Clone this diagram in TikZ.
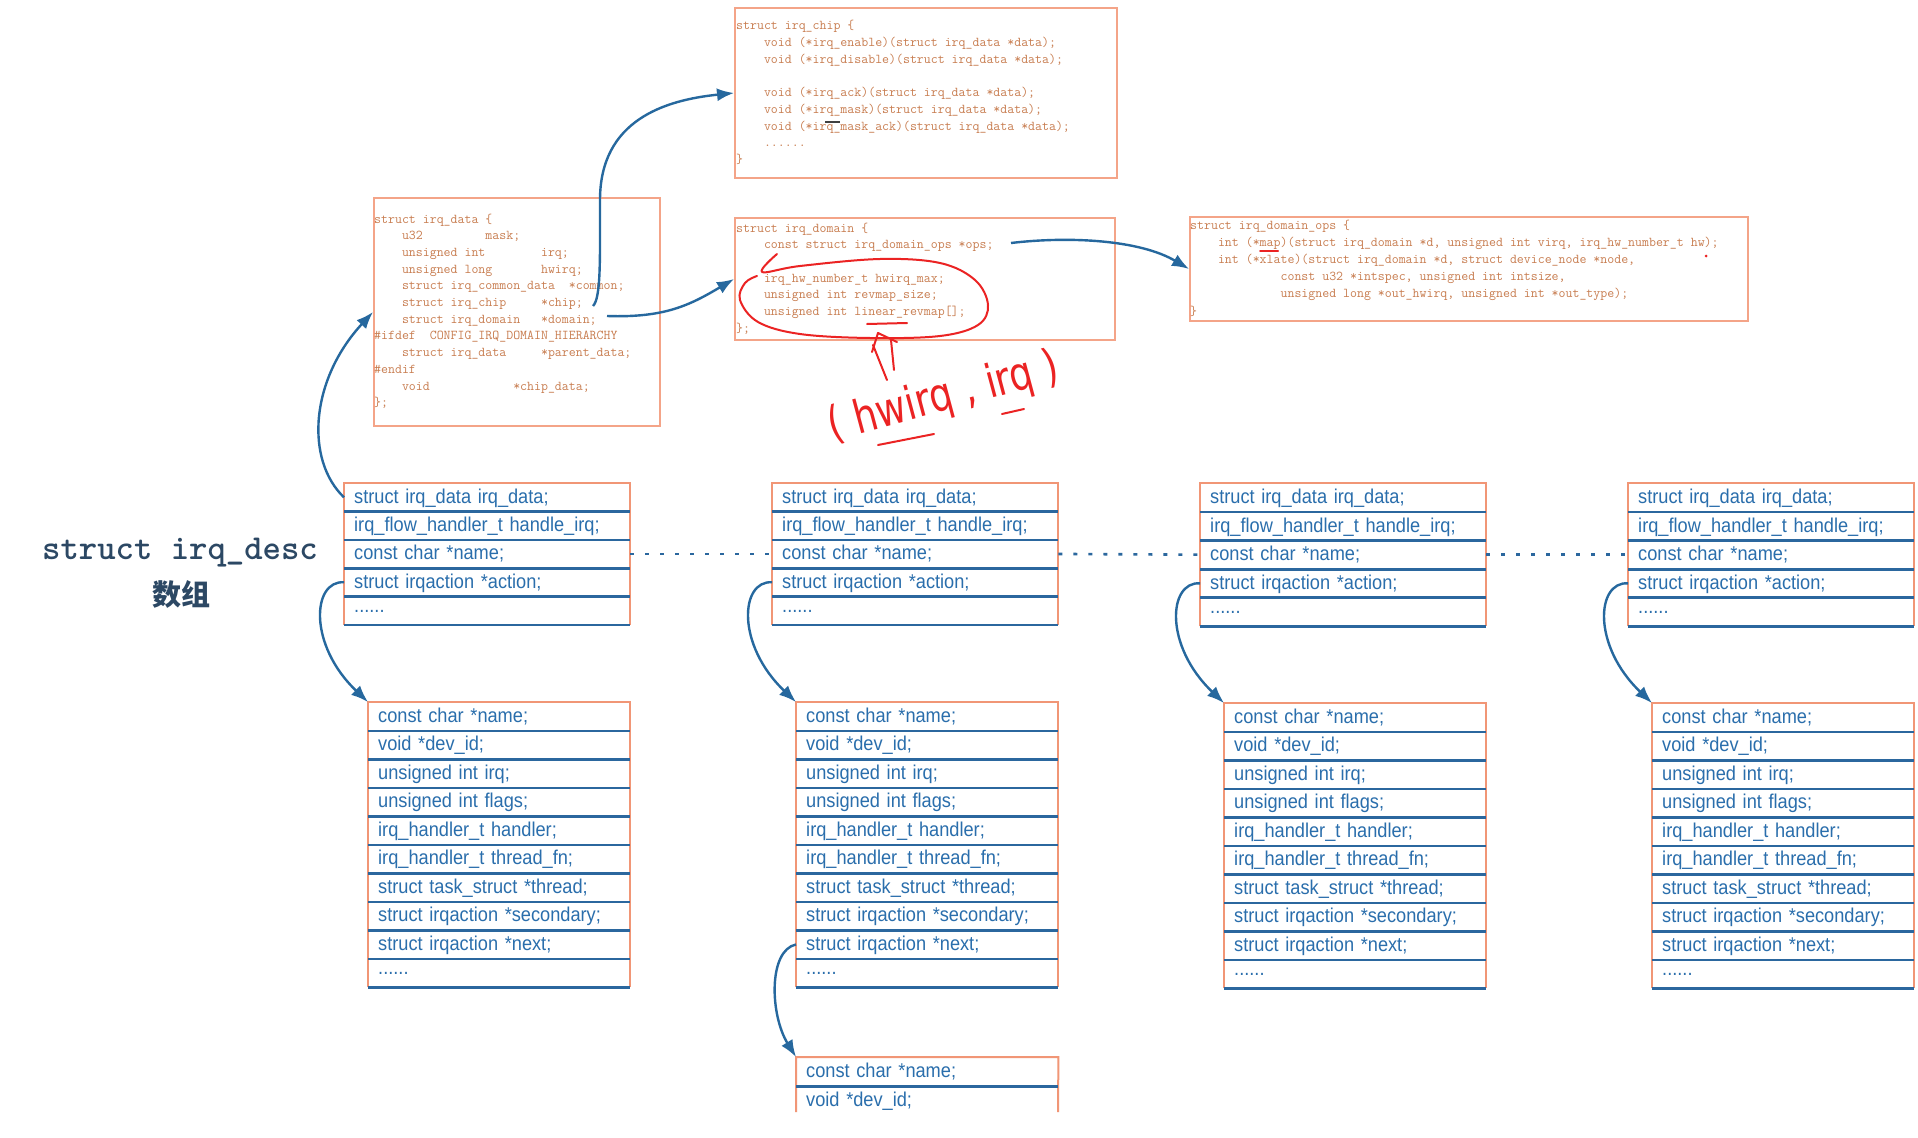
\documentclass[tikz,border=0pt]{standalone}
\usepackage{fontspec}
\usetikzlibrary{arrows.meta}
\newfontfamily\tabfont[FakeStretch=0.91]{Liberation Sans}
\newfontfamily\handfont[FakeStretch=0.8]{DejaVu Sans}
\newfontfamily\cjkfont{Noto Sans CJK SC}
\definecolor{codeborder}{RGB}{244,164,136}
\definecolor{codetextcol}{RGB}{200,125,80}
\definecolor{tabbordercol}{RGB}{241,150,118}
\definecolor{tablinecol}{RGB}{43,103,158}
\definecolor{tabtextcol}{RGB}{42,110,172}
\definecolor{arrowcol}{RGB}{38,104,158}
\definecolor{labelcol}{RGB}{44,72,100}
\definecolor{redcol}{RGB}{235,35,35}
\newcommand\rowdots{\raisebox{4pt}{......}}
\newcommand\sixdots{......}
\newcommand\tabbox[6]{%
  \pgfmathsetmacro\tbw{#5-20}%
  \foreach \rowtxt [count=\rn] in {#6} {%
    \node[rowcell, text width=\tbw pt, minimum width=#5pt, minimum height=#4pt, anchor=north west] (#1-\rn) at (#2, {#3+(\rn-1)*#4}) {\rowtxt};
    \xdef\tblast{\rn}%
  }%
  \draw[tabborder] (#1-\tblast.south west) -- (#1-1.north west) -- (#1-1.north east) -- (#1-\tblast.south east);
  \foreach \rn in {1,...,\tblast} {\draw[tabline] (#1-\rn.south west) -- (#1-\rn.south east);}%
}
\newcommand\codelines[5]{%
  \foreach \ln [count=\rn] in {#5} {%
    \node[codetext, anchor=base west] (#1\rn) at (#2, {#3+(\rn-1)*#4}) {\ln};
  }%
}
\begin{document}
\begin{tikzpicture}[x=1pt,y=-1pt,
  codebox/.style={draw=codeborder, line width=2pt, inner sep=0pt, anchor=north west},
  codetext/.style={text=codetextcol, font=\fontsize{13.5}{16}\selectfont\ttfamily, inner sep=0pt},
  rowcell/.style={inner xsep=10pt, inner ysep=0pt, align=left, text=tabtextcol, font=\tabfont\fontsize{20}{24}\selectfont, text height=15pt, text depth=3pt},
  tabborder/.style={draw=tabbordercol, line width=2pt},
  tabline/.style={draw=tablinecol, line width=2.8pt},
  ptr/.style={draw=arrowcol, line width=2.4pt, -{Latex[length=17pt,width=13pt]}},
  dotlink/.style={draw=tablinecol, line width=2.6pt, dash pattern=on 4pt off 11pt},
  redpen/.style={draw=redcol, line width=2pt, line cap=round, line join=round}]
\fill[white] (0,0) rectangle (1918,1137);
\useasboundingbox (0,0) rectangle (1918,1137);

% ---------- code boxes ----------
\node[codebox, minimum width=382pt, minimum height=170pt] (irqchip) at (734,7) {};
\node[codebox, minimum width=286pt, minimum height=228pt] (irqdata) at (373,197) {};
\node[codebox, minimum width=380pt, minimum height=122pt] (irqdomain) at (734,217) {};
\node[codebox, minimum width=558pt, minimum height=104pt] (irqdomainops) at (1189,216) {};

\codelines{chipL}{736}{30}{16.7}{struct~irq\_chip~\{,
~~~~void~(*irq\_enable)(struct~irq\_data~*data);,
~~~~void~(*irq\_disable)(struct~irq\_data~*data);,
~,
~~~~void~(*irq\_ack)(struct~irq\_data~*data);,
~~~~void~(*irq\_mask)(struct~irq\_data~*data);,
~~~~void~(*irq\_mask\_ack)(struct~irq\_data~*data);,
~~~~\sixdots,
\}}

\codelines{dataL}{374}{223}{16.7}{struct~irq\_data~\{,
~~~~u32~~~~~~~~~mask;,
~~~~unsigned~int~~~~~~~~irq;,
~~~~unsigned~long~~~~~~~hwirq;,
~~~~struct~irq\_common\_data~~*common;,
~~~~struct~irq\_chip~~~~~*chip;,
~~~~struct~irq\_domain~~~*domain;,
\#ifdef~~CONFIG\_IRQ\_DOMAIN\_HIERARCHY,
~~~~struct~irq\_data~~~~~*parent\_data;,
\#endif,
~~~~void~~~~~~~~~~~~*chip\_data;,
\};}

\codelines{domL}{736}{232}{16.7}{struct~irq\_domain~\{,
~~~~const~struct~irq\_domain\_ops~*ops;,
~,
~~~~irq\_hw\_number\_t~hwirq\_max;,
~~~~unsigned~int~revmap\_size;,
~~~~unsigned~int~linear\_revmap[];,
\};}

\codelines{opsL}{1190}{229}{17.2}{struct~irq\_domain\_ops~\{,
{~~~~int~(*map)(struct~irq\_domain~*d,~unsigned~int~virq,~irq\_hw\_number\_t~hw);},
{~~~~int~(*xlate)(struct~irq\_domain~*d,~struct~device\_node~*node,},
{~~~~~~~~~~~~~const~u32~*intspec,~unsigned~int~intsize,},
{~~~~~~~~~~~~~unsigned~long~*out\_hwirq,~unsigned~int~*out\_type);},
\}}

% ---------- irq_desc array ----------
\tabbox{d1}{344}{483}{28.3}{286}{struct irq\_data irq\_data;,irq\_flow\_handler\_t handle\_irq;,const char *name;,struct irqaction *action;,\rowdots}
\tabbox{d2}{772}{483}{28.3}{286}{struct irq\_data irq\_data;,irq\_flow\_handler\_t handle\_irq;,const char *name;,struct irqaction *action;,\rowdots}
\tabbox{d3}{1200}{483}{28.6}{286}{struct irq\_data irq\_data;,irq\_flow\_handler\_t handle\_irq;,const char *name;,struct irqaction *action;,\rowdots}
\tabbox{d4}{1628}{483}{28.6}{286}{struct irq\_data irq\_data;,irq\_flow\_handler\_t handle\_irq;,const char *name;,struct irqaction *action;,\rowdots}

% ---------- irqaction boxes ----------
\tabbox{a1}{368}{702}{28.5}{262}{const char *name;,void *dev\_id;,unsigned int irq;,unsigned int flags;,irq\_handler\_t handler;,irq\_handler\_t thread\_fn;,struct task\_struct *thread;,struct irqaction *secondary;,struct irqaction *next;,\rowdots}
\tabbox{a2}{796}{702}{28.5}{262}{const char *name;,void *dev\_id;,unsigned int irq;,unsigned int flags;,irq\_handler\_t handler;,irq\_handler\_t thread\_fn;,struct task\_struct *thread;,struct irqaction *secondary;,struct irqaction *next;,\rowdots}
\tabbox{a3}{1224}{703}{28.5}{262}{const char *name;,void *dev\_id;,unsigned int irq;,unsigned int flags;,irq\_handler\_t handler;,irq\_handler\_t thread\_fn;,struct task\_struct *thread;,struct irqaction *secondary;,struct irqaction *next;,\rowdots}
\tabbox{a4}{1652}{703}{28.5}{262}{const char *name;,void *dev\_id;,unsigned int irq;,unsigned int flags;,irq\_handler\_t handler;,irq\_handler\_t thread\_fn;,struct task\_struct *thread;,struct irqaction *secondary;,struct irqaction *next;,\rowdots}

% bottom (cut) irqaction
\node[rowcell, text width=242pt, minimum width=262pt, minimum height=29pt, anchor=north west] (a5-1) at (796,1057) {const char *name;};
\node[rowcell, text width=242pt, minimum width=262pt, minimum height=29pt, anchor=north west] (a5-2) at (796,1086) {void *dev\_id;};
\coordinate (a5bl) at (796,1112);
\coordinate (a5br) at (1058,1112);
\draw[tabborder] (a5bl) -- (a5-1.north west) -- (a5-1.north east) -- (a5br);
\draw[tabline] (a5-1.south west) -- (a5-1.south east);

% dotted links between array elements
\draw[dotlink] (d1-3.east) -- (d2-3.west);
\draw[dotlink] (d2-3.east) -- (d3-3.west);
\draw[dotlink] (d3-3.east) -- (d4-3.west);

% ---------- label ----------
\node[text=labelcol, font=\fontsize{35}{40}\selectfont\ttfamily\bfseries] (desclabel) at (180,553) {struct irq\_desc};
\node[text=labelcol, font=\cjkfont\bfseries\fontsize{29}{34}\selectfont] (desclabel2) at (181,594) {数组};

% ---------- pointers ----------
\coordinate (chipptr) at (593,306);
\coordinate (domptr) at (607,316);
\coordinate (opsptr) at (1011,243);
\draw[ptr] (d1-1.west) .. controls (305,460) and (310,380) .. (irqdata.west);
\draw[ptr] (chipptr) .. controls (601,298) and (600,260) .. (600,200) .. controls (600,120) and (665,100) .. (irqchip.west);
\draw[ptr] (domptr) .. controls (665,318) and (690,305) .. (irqdomain.west);
\draw[ptr] (opsptr) .. controls (1070,236) and (1140,240) .. (irqdomainops.west);
\draw[ptr] (d1-4.west) .. controls +(-32,-2) and +(-60,-57) .. (a1-1.north west);
\draw[ptr] (d2-4.west) .. controls +(-32,-2) and +(-60,-57) .. (a2-1.north west);
\draw[ptr] (d3-4.west) .. controls +(-32,-2) and +(-60,-57) .. (a3-1.north west);
\draw[ptr] (d4-4.west) .. controls +(-32,-2) and +(-60,-57) .. (a4-1.north west);
\draw[ptr] (a2-9.west) .. controls +(-28,6) and +(-26,-42) .. (a5-1.north west);

% ---------- red annotations ----------
\draw[redpen] plot[smooth, tension=0.6] coordinates {(777,254) (762,272) (800,266) (880,259) (940,263) (975,280) (988,305) (978,325) (940,336) (870,338) (800,334) (758,322) (740,300) (745,283) (757,276)};
\draw[redpen] (867,324) -- (907,323);
\draw[redpen] (873,345) -- (887,380);
\draw[redpen] (891,340) -- (894,370);
\draw[redpen] (872,352) -- (878,333) -- (897,342);
\node[text=redcol, font=\handfont\fontsize{46}{50}\selectfont, rotate=15, inner sep=0pt] (hwlabel) at (944,398) {( hwirq , irq )};
\draw[redpen] (878,445) -- (934,434);
\draw[redpen] (1002,414) -- (1024,409);
\draw[redpen] (1260,251) -- (1278,251);
\fill[redcol] (1706,256) circle (1.5);
\draw[line width=2pt, black!75] (825,122) -- (840,122);
\end{tikzpicture}
\end{document}
